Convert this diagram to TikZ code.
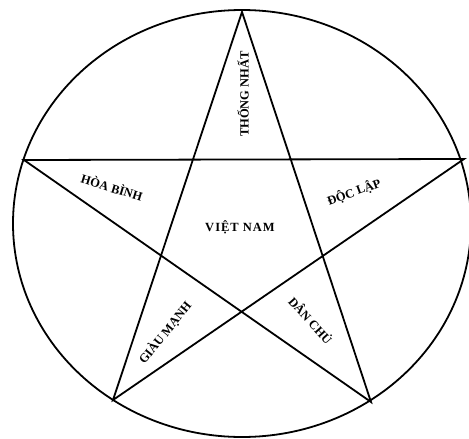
\documentclass[tikz,border=0pt]{standalone}
\usepackage{fontspec}
\setmainfont{Liberation Serif}

\begin{document}
\begin{tikzpicture}[
      x=1pt, y=-1pt,
      ring/.style={draw=black, line width=1.8pt},
      starline/.style={draw=black, line width=1.8pt, line join=miter},
      word/.style={font=\bfseries\fontsize{12.5}{14}\selectfont, inner sep=0pt}
    ]
    \useasboundingbox (0,0) rectangle (469,439);
    \fill[white] (0,0) rectangle (469,439);

    % points of the star, on the ring
    \coordinate (centre) at (242,223.5);
    \coordinate (top) at (242,12);
    \coordinate (left) at (24,160);
    \coordinate (right) at (464,159);
    \coordinate (botleft) at (113,400);
    \coordinate (botright) at (371,402);

    \draw[ring] (centre) ellipse [x radius=229, y radius=213.5];
    \draw[starline] (top) -- (botleft) -- (right) -- (left) -- (botright) -- cycle;

    \node[word, rotate=90] (unity) at (243,94) {THỐNG NHẤT};
    \node[word, rotate=-17] (peace) at (112,187) {HÒA BÌNH};
    \node[word, rotate=20] (indep) at (354,192) {ĐỘC LẬP};
    \node[word, font=\bfseries\fontsize{12.5}{14}\selectfont\addfontfeature{LetterSpace=8}] (vn) at (240,227) {VIỆT NAM};
    \node[word, rotate=51] (rich) at (165,333) {GIÀU MẠNH};
    \node[word, rotate=-48] (demo) at (311,320) {DÂN CHỦ};
  \end{tikzpicture}
\end{document}
